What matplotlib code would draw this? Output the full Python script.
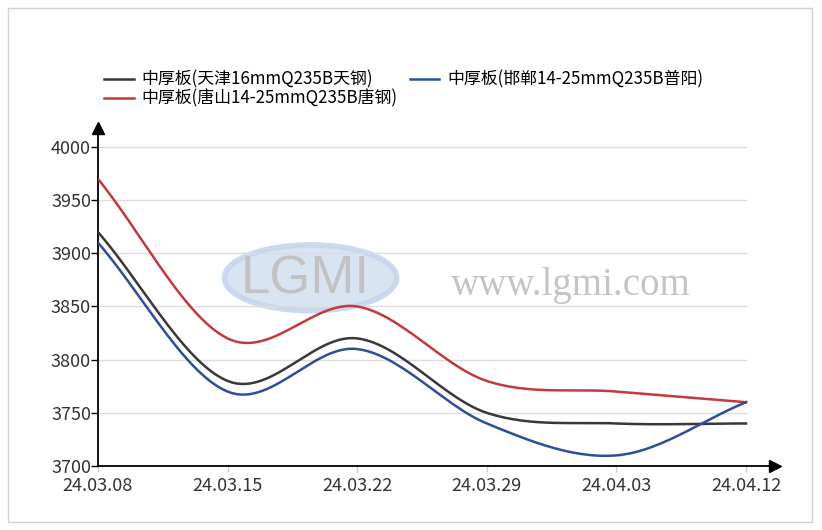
import numpy as np
import matplotlib.pyplot as plt
from matplotlib.patches import Rectangle, Ellipse

plt.rcParams['font.family'] = ['Noto Sans CJK SC', 'DejaVu Sans']

# data
dates = ["24.03.08", "24.03.15", "24.03.22", "24.03.29", "24.04.03", "24.04.12"]
tianjin = [3920, 3780, 3820, 3750, 3740, 3740]
handan = [3910, 3770, 3810, 3740, 3710, 3760]
tangshan = [3970, 3820, 3850, 3780, 3770, 3760]

names = ["中厚板(天津16mmQ235B天钢)",
         "中厚板(唐山14-25mmQ235B唐钢)",
         "中厚板(邯郸14-25mmQ235B普阳)"]
colors = ["#383838", "#c4383e", "#2b4f9e"]
yticks = [3700, 3750, 3800, 3850, 3900, 3950, 4000]


def smooth(y, n=30):
    # catmull-rom curve through the points, just for drawing
    y = np.asarray(y, float)
    x = np.arange(len(y), dtype=float)
    p = np.concatenate([[2 * y[0] - y[1]], y, [2 * y[-1] - y[-2]]])
    xs, ys = [], []
    for i in range(len(y) - 1):
        t = np.linspace(0, 1, n, endpoint=(i == len(y) - 2))
        p0, p1, p2, p3 = p[i], p[i + 1], p[i + 2], p[i + 3]
        yy = 0.5 * (2 * p1 + (-p0 + p2) * t + (2 * p0 - 5 * p1 + 4 * p2 - p3) * t**2
                    + (-p0 + 3 * p1 - 3 * p2 + p3) * t**3)
        xs.append(x[i] + t)
        ys.append(yy)
    return np.concatenate(xs), np.concatenate(ys)


W, H = 822, 530
fig = plt.figure(figsize=(W / 100, H / 100), dpi=100)
fig.patches.append(Rectangle((8 / W, 8 / H), 804 / W, 514 / H, transform=fig.transFigure,
                             fill=False, edgecolor="#d0d0d0", linewidth=1))

left, right, bottom, top = 98, 775, 466, 128
ax = fig.add_axes([left / W, (H - bottom) / H, (right - left) / W, (bottom - top) / H])
ppu = (746 - 98) / 5
ax.set_xlim(0, (right - left) / ppu)
ax.set_ylim(3700, 3700 + (bottom - top) / ((466 - 147) / 300))

# watermark
ax.add_patch(Ellipse((1.64, 3877), 1.33, 62, facecolor="#d3e0f1", edgecolor="#c3d4ec",
                     linewidth=4, alpha=0.85, zorder=0))
ax.text(1.6, 3875, "LGMI", ha="center", va="center", fontsize=38,
        color="#c2c2c2", family="Liberation Sans", zorder=0)
ax.text(2.72, 3870, "www.lgmi.com", ha="left", va="center", fontsize=28,
        color="#c4c4c4", family="Liberation Serif", zorder=0)

for v in yticks[1:]:
    ax.plot([0, 5], [v, v], color="#dcdcdc", linewidth=1, zorder=1)

series = [tianjin, tangshan, handan]
for vals, c, name in zip(series, colors, names):
    xs, ys = smooth(vals)
    ax.plot(xs, ys, color=c, linewidth=1.8, label=name, zorder=3)

for s in ["top", "right"]:
    ax.spines[s].set_visible(False)
ax.spines["left"].set_linewidth(1.3)
ax.spines["bottom"].set_linewidth(1.3)
ax.plot(0, 1, marker="^", color="black", markersize=9, transform=ax.transAxes, clip_on=False)
ax.plot(1, 0, marker=">", color="black", markersize=9, transform=ax.transAxes, clip_on=False)

ax.set_yticks(yticks)
ax.set_yticklabels([str(v) for v in yticks], fontsize=13, color="#333333")
ax.set_xticks(range(len(dates)))
ax.set_xticklabels(dates, fontsize=13, color="#333333")
ax.tick_params(axis="y", length=5, width=1, pad=0, color="black")
ax.tick_params(axis="x", length=4, width=1, pad=4, color="#cccccc")

fig.legend(loc="upper left", bbox_to_anchor=(96 / W, 1 - 62 / H), ncol=2, frameon=False,
           fontsize=12.2, handlelength=1.75, handletextpad=0.45, columnspacing=0.7,
           labelspacing=0.05, borderpad=0)

fig.savefig("out.png", dpi=100)
